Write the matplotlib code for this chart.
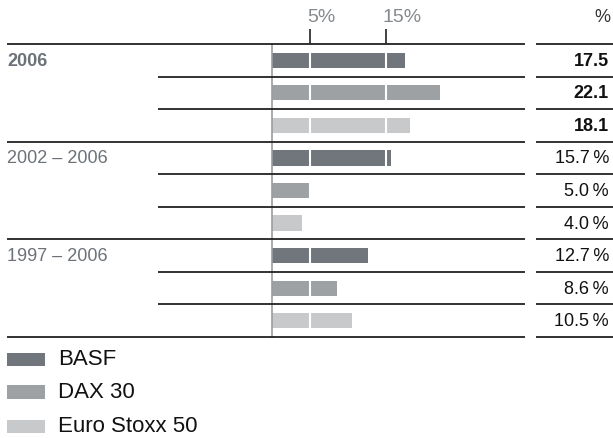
import matplotlib
matplotlib.use("Agg")
import matplotlib.pyplot as plt
import matplotlib.transforms as mtransforms
from matplotlib.patches import Rectangle

plt.rcParams["font.family"] = ["Liberation Sans", "DejaVu Sans"]

# data
periods = ["2006", "2002 – 2006", "1997 – 2006"]
series = ["BASF", "DAX 30", "Euro Stoxx 50"]
values = [
    [17.5, 22.1, 18.1],
    [15.7, 5.0, 4.0],
    [12.7, 8.6, 10.5],
]
value_labels = [
    ["17.5", "22.1", "18.1"],
    ["15.7\u2009%", "5.0\u2009%", "4.0\u2009%"],
    ["12.7\u2009%", "8.6\u2009%", "10.5\u2009%"],
]
ticks = [5, 15]
tick_labels = ["5%", "15%"]

colors = ["#71767c", "#9ea1a4", "#c8c9cb"]
W, H = 613, 439


def fx(px):
    return px / W


def fy(py):
    return 1 - py / H


fig = plt.figure(figsize=(W / 100, H / 100), dpi=100)
ax = fig.add_axes([fx(272), fy(338), fx(525) - fx(272), fy(45) - fy(338)])

n_rows = len(periods) * len(series)
ax.set_xlim(0, 33.3)
ax.set_ylim(n_rows, 0)

row = 0
for g, period in enumerate(periods):
    for s, name in enumerate(series):
        ax.barh(row + 0.5, values[g][s], height=0.47, color=colors[s], zorder=2)
        row += 1

# white grid lines over bars
ax.vlines(ticks, 0, n_rows, color="white", lw=1.5, zorder=3)

for sp in ["top", "right", "bottom"]:
    ax.spines[sp].set_visible(False)
ax.spines["left"].set_color("#9a9da0")
ax.spines["left"].set_linewidth(1.2)

ax.xaxis.tick_top()
ax.set_xticks(ticks)
ax.set_xticklabels(tick_labels)
ax.tick_params(axis="x", length=11, width=1.2, color="#222222",
               labelcolor="#85898d", labelsize=14, pad=3)
shift = mtransforms.ScaledTranslation(-3 / 100, 0, fig.dpi_scale_trans)
for lab in ax.get_xticklabels():
    lab.set_horizontalalignment("left")
    lab.set_transform(lab.get_transform() + shift)
ax.set_yticks([])

# row separators, extending beyond the axes in figure coordinates
trans = mtransforms.blended_transform_factory(fig.transFigure, ax.transData)
for r in range(n_rows + 1):
    start = fx(7) if r % len(series) == 0 else fx(158)
    ax.plot([start, fx(525)], [r, r], transform=trans, color="#222222",
            lw=1.3, clip_on=False, zorder=4, solid_capstyle="butt")
    ax.plot([fx(536), fx(613)], [r, r], transform=trans, color="#222222",
            lw=1.3, clip_on=False, zorder=4, solid_capstyle="butt")

row = 0
for g, period in enumerate(periods):
    bold = g == 0
    ax.text(fx(7), row + 0.5, period, transform=trans, ha="left", va="center",
            fontsize=13, color="#6d7278", fontweight="bold" if bold else "normal")
    for s in range(len(series)):
        ax.text(fx(609), row + 0.5, value_labels[g][s], transform=trans,
                ha="right", va="center", fontsize=13, color="#111111",
                fontweight="bold" if bold else "normal")
        row += 1

fig.text(fx(610), fy(18), "%", ha="right", va="center", fontsize=13,
         color="#333333")

# legend
legend_y = [360, 393, 427]
for s, name in enumerate(series):
    fig.add_artist(Rectangle((fx(7), fy(legend_y[s] + 6.5)), fx(45) - fx(7),
                             fy(legend_y[s] - 6.5) - fy(legend_y[s] + 6.5),
                             transform=fig.transFigure, color=colors[s], lw=0))
    fig.text(fx(58), fy(legend_y[s]), name, ha="left", va="center",
             fontsize=16, color="#111111")

fig.savefig("out.png", dpi=100)
